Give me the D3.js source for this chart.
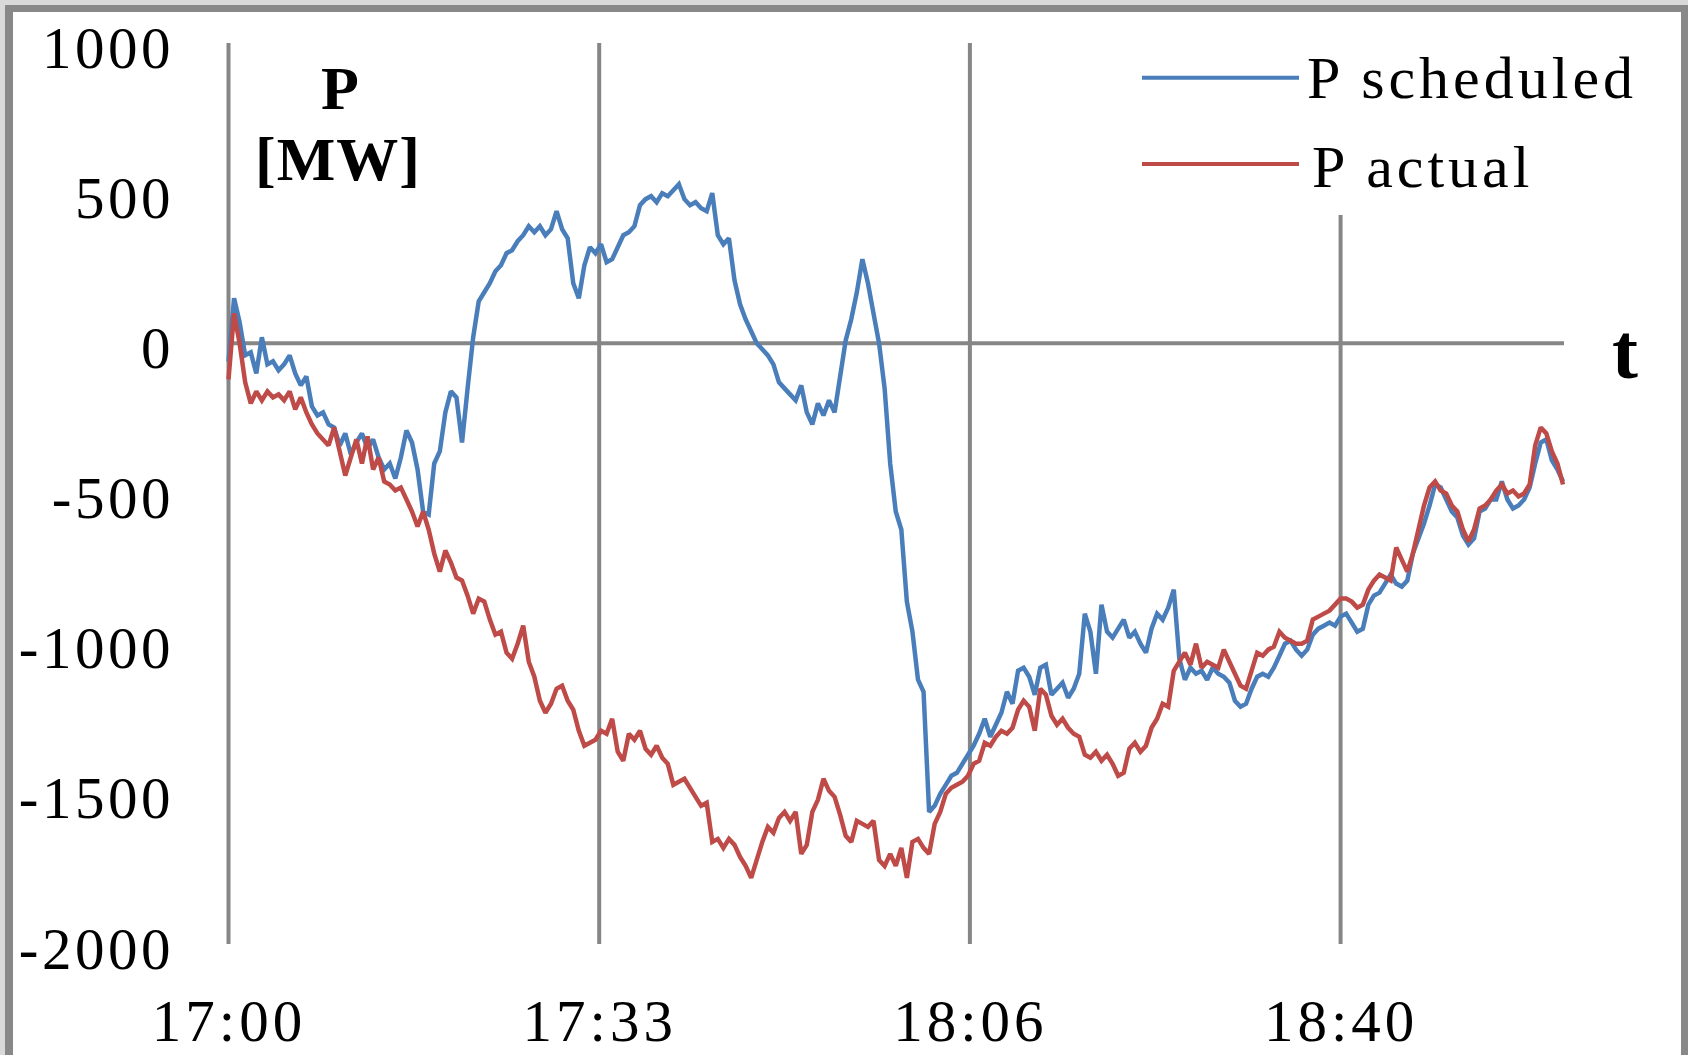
<!DOCTYPE html>
<html><head><meta charset="utf-8">
<script src="https://cdn.jsdelivr.net/npm/d3@7"></script>
<style>html,body{margin:0;padding:0;background:#d9d9d9;overflow:hidden}</style>
</head><body><svg id="c" width="1688" height="1055"></svg>
<script>
// ---- data ----
const tickLabels = ["17:00", "17:33", "18:06", "18:40"];
const tickMinutes = [0, 33.333, 66.667, 100];
const yTicks = [1000, 500, 0, -500, -1000, -1500, -2000];
const seriesNames = ["P scheduled", "P actual"];
const sampleStepMin = 0.5; // one value every 30 s, 17:00 .. 19:00
const pScheduled = [
  -60,150,70,-40,-30,-100,20,-70,-60,-90, -70,-40,-100,-140,-110,-210,-240,-230,-270,-280,
  -340,-300,-370,-330,-300,-350,-320,-380,-420,-400, -450,-380,-290,-330,-420,-560,-570,-400,-360,-230,
  -160,-180,-330,-150,20,140,170,200,240,260, 300,310,340,360,390,370,390,360,380,440,
  380,350,200,150,260,320,300,330,270,280, 320,360,370,390,460,480,490,470,500,490,
  510,530,480,460,470,450,440,500,360,330, 350,210,130,80,40,0,-20,-40,-70,-130,
  -150,-170,-190,-140,-230,-270,-200,-240,-190,-230, -110,10,80,170,280,200,100,0,-150,-400,
  -560,-620,-860,-960,-1120,-1160,-1560,-1540,-1500,-1470, -1440,-1430,-1400,-1370,-1340,-1300,-1250,-1310,-1270,-1230,
  -1160,-1200,-1090,-1080,-1110,-1170,-1080,-1070,-1170,-1150, -1130,-1180,-1150,-1100,-900,-960,-1100,-870,-960,-980,
  -950,-920,-980,-960,-1000,-1030,-950,-900,-920,-880, -820,-1050,-1120,-1080,-1100,-1090,-1120,-1080,-1100,-1110,
  -1130,-1190,-1210,-1200,-1150,-1110,-1100,-1110,-1080,-1040, -1000,-990,-1020,-1040,-1020,-970,-950,-940,-930,-940,
  -910,-900,-930,-960,-950,-870,-840,-830,-800,-770, -800,-810,-790,-700,-650,-600,-540,-470,-480,-520,
  -560,-580,-640,-670,-650,-560,-550,-520,-520,-460, -520,-550,-540,-520,-480,-400,-330,-320,-390,-420,
  -460
];
const pActual = [
  -120,100,0,-130,-200,-160,-190,-160,-180,-170, -190,-160,-220,-180,-230,-270,-300,-320,-340,-280,
  -360,-440,-380,-320,-400,-310,-420,-380,-460,-470, -490,-480,-520,-560,-610,-560,-620,-700,-760,-690,
  -730,-780,-790,-840,-900,-850,-860,-920,-970,-960, -1030,-1050,-1000,-940,-1060,-1110,-1190,-1230,-1200,-1150,
  -1140,-1190,-1220,-1290,-1340,-1330,-1320,-1290,-1300,-1250, -1360,-1390,-1300,-1320,-1290,-1350,-1370,-1340,-1380,-1400,
  -1470,-1460,-1450,-1480,-1510,-1540,-1530,-1660,-1650,-1680, -1650,-1670,-1710,-1740,-1780,-1720,-1660,-1610,-1630,-1580,
  -1560,-1590,-1560,-1700,-1670,-1560,-1520,-1450,-1490,-1510, -1570,-1640,-1660,-1590,-1600,-1610,-1590,-1720,-1740,-1700,
  -1740,-1680,-1780,-1660,-1650,-1680,-1700,-1600,-1560,-1500, -1480,-1470,-1460,-1440,-1400,-1390,-1330,-1340,-1310,-1290,
  -1300,-1280,-1220,-1190,-1210,-1290,-1150,-1170,-1240,-1270, -1250,-1280,-1300,-1310,-1370,-1380,-1360,-1390,-1370,-1400,
  -1440,-1430,-1350,-1330,-1360,-1340,-1280,-1250,-1200,-1210, -1090,-1060,-1030,-1070,-1000,-1080,-1060,-1070,-1080,-1020,
  -1060,-1100,-1140,-1150,-1090,-1030,-1040,-1020,-1010,-960, -980,-990,-1000,-1000,-990,-920,-910,-900,-890,-870,
  -850,-850,-860,-880,-870,-820,-790,-770,-780,-790, -680,-720,-760,-700,-620,-540,-480,-460,-490,-500,
  -540,-560,-620,-660,-620,-550,-540,-520,-490,-470, -500,-490,-510,-500,-470,-340,-280,-300,-360,-400,
  -470
];

// ---- layout / style ----
const W = 1688, H = 1055;
const FONT = "'Liberation Serif','Times New Roman',serif";
const GRID = "#868686";
const COLORS = ["#4a7ebb", "#be4b48"];

const svg = d3.select("#c");
// frame
svg.append("rect").attr("x", 0).attr("y", 0).attr("width", W).attr("height", H).attr("fill", "#d9d9d9");
svg.append("rect").attr("x", 5).attr("y", 5).attr("width", W - 5).attr("height", H - 5).attr("fill", "#888888");
svg.append("rect").attr("x", 13).attr("y", 12).attr("width", 1681 - 13).attr("height", H - 12).attr("fill", "#ffffff");

const x = d3.scaleLinear().domain([0, 120]).range([228.5, 1563]);
const y = d3.scaleLinear().domain([-2000, 1000]).range([944, 43]);

// gridlines (vertical at time ticks, horizontal zero line)
const grid = svg.append("g");
grid.selectAll("line.v").data(tickMinutes).join("line").attr("class", "v")
  .attr("x1", d => x(d)).attr("x2", d => x(d))
  .attr("y1", (d, i) => i === tickMinutes.length - 1 ? 215 : y(1000))
  .attr("y2", y(-2000))
  .attr("stroke", GRID).attr("stroke-width", 4);
grid.append("line")
  .attr("x1", x(0)).attr("x2", x(120) + 1).attr("y1", y(0)).attr("y2", y(0))
  .attr("stroke", GRID).attr("stroke-width", 4);

// y axis labels
const yAxis = d3.axisLeft(y).tickValues(yTicks).tickSize(0).tickPadding(0).tickFormat(d => String(d));
const gy = svg.append("g").attr("transform", "translate(174,0)").call(yAxis);
gy.select(".domain").remove();
gy.selectAll("text").attr("x", 0).attr("dy", null).attr("y", 24)
  .attr("font-family", FONT).attr("font-size", 59).attr("letter-spacing", 3.5)
  .attr("fill", "#000").attr("text-anchor", "end");

// x axis labels
const xAxis = d3.axisBottom(x).tickValues(tickMinutes).tickSize(0).tickPadding(0)
  .tickFormat((d, i) => tickLabels[i]);
const gx = svg.append("g").attr("transform", "translate(0,1041)").call(xAxis);
gx.select(".domain").remove();
gx.selectAll("text").attr("dy", null).attr("y", 0)
  .attr("font-family", FONT).attr("font-size", 59).attr("letter-spacing", 4)
  .attr("fill", "#000").attr("text-anchor", "middle");

// series lines
const times = d3.range(pScheduled.length).map(i => i * sampleStepMin);
const line = d3.line().x((d, i) => x(times[i])).y(d => y(d)).curve(d3.curveLinear);
[pScheduled, pActual].forEach((s, k) => {
  svg.append("path").datum(s).attr("d", line)
    .attr("fill", "none").attr("stroke", COLORS[k]).attr("stroke-width", 4.5)
    .attr("stroke-linejoin", "miter").attr("stroke-miterlimit", 2);
});

// axis titles
svg.append("text").attr("x", 340).attr("y", 109).attr("text-anchor", "middle")
  .attr("font-family", FONT).attr("font-weight", "bold").attr("font-size", 62).text("P");
svg.append("text").attr("x", 338).attr("y", 180).attr("text-anchor", "middle")
  .attr("font-family", FONT).attr("font-weight", "bold").attr("font-size", 62).attr("letter-spacing", 1).text("[MW]");
svg.append("text").attr("x", 1625).attr("y", 378).attr("text-anchor", "middle")
  .attr("font-family", FONT).attr("font-weight", "bold").attr("font-size", 78).text("t");

// legend
const legY = [77.7, 164];
const legTextX = [1307, 1312];
const legBase = [98, 187];
seriesNames.forEach((name, k) => {
  svg.append("line").attr("x1", 1142).attr("x2", 1299).attr("y1", legY[k]).attr("y2", legY[k])
    .attr("stroke", COLORS[k]).attr("stroke-width", 4);
  svg.append("text").attr("x", legTextX[k]).attr("y", legBase[k])
    .attr("font-family", FONT).attr("font-size", 60).attr("letter-spacing", 4)
    .attr("fill", "#000").text(name);
});
</script>
</body></html>
